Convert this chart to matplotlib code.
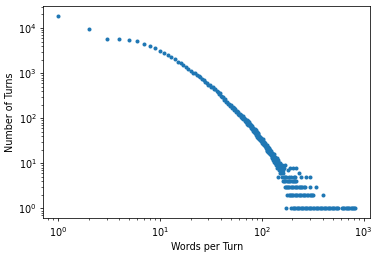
import numpy as np
import matplotlib.pyplot as plt

# number of turns for each turn length (words)
head_words = list(range(1, 100))
head_turns = [18500, 9500, 5800, 5700, 5400, 5100, 4470, 4050, 3530, 3150,
              2750, 2500, 2300, 2080, 1790, 1660, 1480, 1390, 1210, 1130,
              1020, 1000, 910, 870, 830, 740, 710, 630, 610, 545,
              540, 490, 485, 440, 445, 400, 392, 350, 355, 318,
              296, 290, 258, 262, 230, 232, 205, 212, 188, 196,
              170, 181, 172, 150, 162, 139, 147, 124, 136, 118,
              127, 108, 121, 103, 112, 94, 104, 87, 98, 84,
              92, 76, 88, 71, 81, 67, 75, 62, 70, 57,
              66, 52, 61, 49, 57, 46, 54, 43, 50, 39,
              47, 36, 44, 35, 41, 33, 39, 31, 37]

mid_words = list(range(100, 166))
mid_turns = [33, 29, 34, 27, 31, 25, 30, 24, 28, 22,
             26, 23, 20, 25, 19, 23, 18, 22, 17, 21,
             16, 20, 18, 15, 19, 14, 17, 13, 16, 15,
             12, 16, 13, 11, 14, 10, 13, 12, 9, 11,
             13, 8, 10, 5, 12, 9, 11, 7, 10, 8,
             9, 6, 10, 7, 8, 9, 6, 8, 7, 5,
             9, 6, 4, 7, 5, 8]

extra_words = [170, 180, 188, 201, 219, 233]
extra_turns = [9, 7, 8, 8, 8, 6]

# long turns: word counts seen with only a few turns
words_5 = [168, 174, 185, 193, 207, 211, 242, 270, 300]
words_4 = [166, 171, 176, 181, 186, 191, 197, 203, 209, 213, 218]
words_3 = [169, 173, 177, 182, 187, 192, 198, 204, 210, 216, 223, 230,
           237, 244, 251, 258, 265, 297, 345]
words_2 = [179, 184, 189, 194, 199, 205, 212, 217, 224, 231, 238, 245,
           253, 261, 269, 277, 286, 295, 304, 313, 320, 403]
words_1 = [175, 196, 202, 208, 214, 221, 228, 235, 243, 249, 257, 266,
           273, 281, 290, 299, 308, 318, 328, 338, 348, 359, 370, 381,
           393, 405, 417, 430, 443, 457, 471, 485, 500, 515, 531, 547,
           562, 612, 630, 648, 667, 687, 707, 728, 749, 771, 793, 815, 830]

words = head_words + mid_words + extra_words + words_5 + words_4 + words_3 + words_2 + words_1
turns = (head_turns + mid_turns + extra_turns + [5] * len(words_5) + [4] * len(words_4)
         + [3] * len(words_3) + [2] * len(words_2) + [1] * len(words_1))

plt.rcParams['font.size'] = 6.9
plt.rcParams['axes.linewidth'] = 0.55
for ax_name in ['xtick', 'ytick']:
    plt.rcParams[ax_name + '.major.size'] = 2.4
    plt.rcParams[ax_name + '.minor.size'] = 1.4
    plt.rcParams[ax_name + '.major.width'] = 0.55
    plt.rcParams[ax_name + '.minor.width'] = 0.45
    plt.rcParams[ax_name + '.major.pad'] = 2.4

fig, ax = plt.subplots(figsize=(3.82, 2.56), dpi=100)
fig.subplots_adjust(left=0.113, right=0.969, bottom=0.148, top=0.975)

ax.plot(words, turns, 'o', color='#1f77b4', markersize=2.9, markeredgewidth=0)
ax.set_xscale('log')
ax.set_yscale('log')
ax.set_xlabel('Words per Turn', labelpad=2.5)
ax.set_ylabel('Number of Turns', labelpad=2.5)

fig.savefig('out.png', dpi=100)
